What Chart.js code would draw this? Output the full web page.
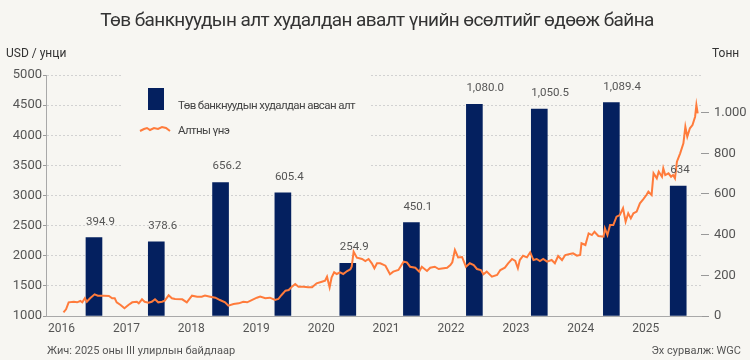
<!DOCTYPE html>
<html>
<head>
<meta charset="utf-8">
<script src="https://cdn.jsdelivr.net/npm/chart.js@4"></script>
<style>
  body { margin: 0; background: #f7f6f2; }
  #wrap { width: 750px; height: 360px; }
</style>
</head>
<body>
<div id="wrap"><canvas id="chart"></canvas></div>
<script>
// tick years on the time axis
const years = [2016, 2017, 2018, 2019, 2020, 2021, 2022, 2023, 2024, 2025];

// central bank purchases, one bar per year (tonnes)
const barYears = [2016.5, 2017.46, 2018.45, 2019.41, 2020.41, 2021.39, 2022.36, 2023.36, 2024.47, 2025.5];
const boughtTonnes = [385, 365, 656, 606, 259, 459, 1041, 1017, 1049, 639];
const boughtLabels = ['394.9', '378.6', '656.2', '605.4', '254.9', '450.1', '1,080.0', '1,050.5', '1,089.4', '634'];

// gold price, USD per ounce
const priceDates = [
  2016.03, 2016.07, 2016.11, 2016.19, 2016.24, 2016.29, 2016.32, 2016.36, 2016.39, 2016.44,
  2016.51, 2016.56, 2016.65, 2016.73, 2016.78, 2016.82, 2016.85, 2016.91, 2016.97, 2017.03,
  2017.09, 2017.16, 2017.19, 2017.24, 2017.28, 2017.34, 2017.39, 2017.44, 2017.49, 2017.55,
  2017.59, 2017.65, 2017.70, 2017.75, 2017.86, 2017.93, 2018.01, 2018.09, 2018.16, 2018.21,
  2018.29, 2018.37, 2018.44, 2018.52, 2018.57, 2018.65, 2018.73, 2018.80, 2018.86, 2018.93,
  2019.01, 2019.06, 2019.14, 2019.21, 2019.29, 2019.34, 2019.39, 2019.45, 2019.50, 2019.55,
  2019.60, 2019.65, 2019.73, 2019.80, 2019.86, 2019.93, 2020.01, 2020.06, 2020.09, 2020.13,
  2020.16, 2020.20, 2020.24, 2020.29, 2020.34, 2020.40, 2020.45, 2020.47, 2020.50, 2020.55,
  2020.63, 2020.68, 2020.73, 2020.78, 2020.82, 2020.86, 2020.91, 2020.99, 2021.06, 2021.11,
  2021.19, 2021.27, 2021.32, 2021.37, 2021.45, 2021.51, 2021.55, 2021.63, 2021.68, 2021.75,
  2021.81, 2021.86, 2021.94, 2021.99, 2022.02, 2022.06, 2022.11, 2022.17, 2022.23, 2022.29,
  2022.35, 2022.40, 2022.46, 2022.50, 2022.55, 2022.63, 2022.71, 2022.76, 2022.83, 2022.88,
  2022.94, 2022.99, 2023.03, 2023.06, 2023.11, 2023.17, 2023.22, 2023.27, 2023.32, 2023.37,
  2023.42, 2023.48, 2023.55, 2023.60, 2023.65, 2023.71, 2023.76, 2023.83, 2023.88, 2023.94,
  2023.99, 2024.01, 2024.07, 2024.12, 2024.17, 2024.21, 2024.27, 2024.35, 2024.37, 2024.41,
  2024.45, 2024.50, 2024.55, 2024.60, 2024.65, 2024.69, 2024.73, 2024.77, 2024.81, 2024.86,
  2024.91, 2024.96, 2025.01, 2025.04, 2025.09, 2025.12, 2025.17, 2025.20, 2025.25, 2025.27,
  2025.30, 2025.35, 2025.39, 2025.42, 2025.45, 2025.48, 2025.53, 2025.58, 2025.61, 2025.64,
  2025.68, 2025.72, 2025.76, 2025.78, 2025.80
];
const priceUsd = [
  1061, 1111, 1227, 1237, 1227, 1249, 1227, 1294, 1237, 1294,
  1360, 1337, 1337, 1332, 1294, 1294, 1227, 1183, 1128, 1183,
  1227, 1237, 1211, 1277, 1237, 1221, 1237, 1277, 1227, 1237,
  1254, 1343, 1294, 1283, 1277, 1227, 1337, 1321, 1321, 1338,
  1321, 1304, 1265, 1227, 1171, 1199, 1210, 1237, 1227, 1265,
  1304, 1321, 1294, 1304, 1265, 1282, 1349, 1420, 1431, 1487,
  1531, 1487, 1487, 1476, 1476, 1542, 1569, 1586, 1652, 1476,
  1636, 1725, 1697, 1725, 1697, 1747, 1775, 1818, 2067, 1968,
  1946, 1913, 1946, 1875, 1792, 1875, 1875, 1835, 1692, 1736,
  1763, 1901, 1891, 1818, 1802, 1736, 1818, 1747, 1802, 1818,
  1780, 1790, 1802, 1846, 1891, 2095, 1973, 1980, 1818, 1875,
  1846, 1780, 1763, 1692, 1736, 1652, 1680, 1763, 1802, 1875,
  1946, 1913, 1792, 1929, 2000, 1973, 2057, 1929, 1946, 1913,
  1946, 1902, 1929, 1875, 1996, 1929, 2012, 2029, 2041, 2001,
  2012, 2207, 2178, 2372, 2344, 2399, 2328, 2316, 2456, 2344,
  2510, 2510, 2648, 2676, 2788, 2565, 2705, 2621, 2705, 2732,
  2870, 2937, 3008, 3063, 3008, 3368, 3285, 3395, 3312, 3451,
  3340, 3368, 3312, 3340, 3285, 3561, 3700, 3866, 4142, 3976,
  4115, 4170, 4308, 4502, 4364
];

const usdTicks = [1000, 1500, 2000, 2500, 3000, 3500, 4000, 4500, 5000];
const tonneTicks = [0, 200, 400, 600, 800, 1000];

const BG = '#f7f6f2';
const NAVY = '#04205f';
const ORANGE = '#ff7b3b';
const FONT = 'Roboto, "Liberation Sans", sans-serif';

Chart.defaults.font.family = FONT;
Chart.defaults.color = '#555';

// title, legend panel, bar values and notes
const decor = {
    id: 'decor',
    beforeDatasetsDraw(chart) {
        const ctx = chart.ctx;
        ctx.save();
        // legend sits on a plain panel over the grid
        ctx.fillStyle = BG;
        ctx.fillRect(122, 70, 249, 100);
        ctx.fillStyle = NAVY;
        ctx.fillRect(148, 88, 16, 22);
        ctx.strokeStyle = ORANGE;
        ctx.lineWidth = 2;
        ctx.beginPath();
        [[140, 131], [144, 129], [147, 128], [150, 130], [154, 128], [158, 129], [162, 127], [166, 128], [170, 131]]
            .forEach((p, i) => i ? ctx.lineTo(p[0], p[1]) : ctx.moveTo(p[0], p[1]));
        ctx.stroke();
        ctx.fillStyle = '#444';
        ctx.font = '11.5px ' + FONT;
        ctx.letterSpacing = '-0.6px';
        ctx.textBaseline = 'middle';
        ctx.fillText('Төв банкнуудын худалдан авсан алт', 178, 106);
        ctx.fillText('Алтны үнэ', 178, 131);
        ctx.restore();
    },
    afterDatasetsDraw(chart) {
        const ctx = chart.ctx;
        const xs = chart.scales.x;
        const ys = chart.scales.y1;
        ctx.save();
        ctx.fillStyle = '#555';
        ctx.font = '11.5px ' + FONT;
        ctx.textBaseline = 'middle';
        boughtLabels.forEach((t, i) => {
            ctx.fillText(t, xs.getPixelForValue(barYears[i]) - 8, ys.getPixelForValue(boughtTonnes[i]) - 16);
        });
        ctx.restore();
    },
    afterDraw(chart) {
        const ctx = chart.ctx;
        ctx.save();
        ctx.textBaseline = 'middle';
        ctx.fillStyle = '#333';
        ctx.font = '19px ' + FONT;
        ctx.letterSpacing = '-0.6px';
        ctx.textAlign = 'center';
        ctx.fillText('Төв банкнуудын алт худалдан авалт үнийн өсөлтийг өдөөж байна', 377, 21);
        ctx.letterSpacing = '0px';
        ctx.font = '12px ' + FONT;
        ctx.textAlign = 'left';
        ctx.fillText('USD / унци', 6, 54);
        ctx.fillText('Тонн', 712, 54);
        ctx.fillStyle = '#555';
        ctx.font = '11px ' + FONT;
        ctx.fillText('Жич: 2025 оны III улирлын байдлаар', 47, 351);
        ctx.textAlign = 'right';
        ctx.fillText('Эх сурвалж: WGC', 741, 351);
        ctx.restore();
    }
};

new Chart(document.getElementById('chart'), {
    data: {
        datasets: [{
            type: 'line',
            label: 'Алтны үнэ',
            data: priceDates.map((d, i) => ({ x: d, y: priceUsd[i] })),
            yAxisID: 'y',
            borderColor: ORANGE,
            borderWidth: 2,
            pointRadius: 0,
            tension: 0,
            order: 1
        }, {
            type: 'bar',
            label: 'Төв банкнуудын худалдан авсан алт',
            data: barYears.map((d, i) => ({ x: d, y: boughtTonnes[i] })),
            yAxisID: 'y1',
            backgroundColor: NAVY,
            barThickness: 16,
            order: 2
        }]
    },
    options: {
        responsive: true,
        maintainAspectRatio: false,
        animation: false,
        layout: { padding: { top: 75, left: 0, right: 0, bottom: 0 } },
        plugins: {
            legend: { display: false },
            tooltip: { enabled: false }
        },
        scales: {
            x: {
                type: 'linear',
                offset: false,
                min: 2015.761,
                max: 2025.851,
                afterBuildTicks: s => { s.ticks = years.map(v => ({ value: v })); },
                afterFit: s => { s.height = 44; },
                grid: { display: false, drawTicks: false, offset: false },
                border: { display: true, color: '#a9a9a9' },
                ticks: { padding: 6, font: { size: 12 }, maxRotation: 0, autoSkip: false, callback: v => String(v) }
            },
            y: {
                position: 'left',
                min: 1000,
                max: 5000,
                afterBuildTicks: s => { s.ticks = usdTicks.map(v => ({ value: v })); },
                afterFit: s => { s.width = 46; },
                grid: { color: '#d2d2d2', tickLength: 3, tickColor: '#999', tickBorderDash: [] },
                border: { display: true, color: '#a9a9a9', dash: [2, 2] },
                ticks: { padding: 1, font: { size: 13 }, callback: v => String(v) }
            },
            y1: {
                position: 'right',
                min: 0,
                max: 1185,
                afterBuildTicks: s => { s.ticks = tonneTicks.map(v => ({ value: v })); },
                afterFit: s => { s.width = 49; },
                grid: { drawOnChartArea: false, tickLength: 8, tickColor: '#999', tickBorderDash: [] },
                border: { display: false },
                ticks: { padding: 5, font: { size: 13 }, callback: v => String(v).replace(/\B(?=(\d{3})+(?!\d))/g, '.') }
            }
        }
    },
    plugins: [decor]
});
</script>
</body>
</html>
